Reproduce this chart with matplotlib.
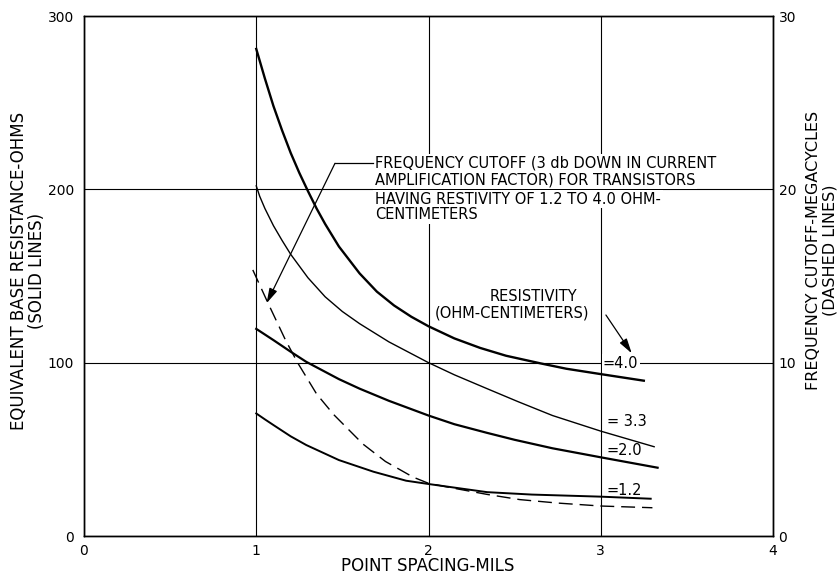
import matplotlib.pyplot as plt

# base resistance (ohms) vs point spacing (mils), one curve per resistivity
spacing_40 = [1.0, 1.05, 1.1, 1.15, 1.2, 1.25, 1.3, 1.35, 1.4, 1.48, 1.6, 1.7, 1.8, 1.9,
              2.0, 2.15, 2.3, 2.45, 2.65, 2.8, 3.0, 3.25]
resist_40 = [281, 264, 248, 234, 221, 209.5, 199, 189, 180, 167, 151.5, 141, 133, 126.5,
             121, 114, 108.5, 104, 99.6, 96.5, 93.4, 89.6]

spacing_33 = [1.0, 1.02, 1.05, 1.1, 1.15, 1.2, 1.3, 1.4, 1.5, 1.6, 1.77, 2.0, 2.15, 2.34,
              2.52, 2.72, 3.0, 3.31]
resist_33 = [202, 196, 189, 179, 170.5, 162.5, 149, 138, 129.5, 122.5, 112, 100, 93, 85,
             77.5, 69.5, 60.5, 51.5]

spacing_20 = [1.0, 1.1, 1.2, 1.29, 1.48, 1.6, 1.77, 2.0, 2.15, 2.34, 2.5, 2.72, 3.0, 3.33]
resist_20 = [119.5, 113, 106.3, 100.5, 90.5, 85, 78, 69.5, 64.5, 59.5, 55.5, 50.6, 45.4, 39.4]

spacing_12 = [1.0, 1.05, 1.1, 1.2, 1.29, 1.48, 1.68, 1.87, 2.0, 2.34, 2.6, 3.0, 3.29]
resist_12 = [70.7, 67.3, 64, 57.5, 52.5, 43.8, 37.1, 31.9, 30, 25.3, 23.9, 22.7, 21.5]

# frequency cutoff (megacycles), right hand scale
spacing_fc = [0.98, 1.07, 1.17, 1.24, 1.35, 1.45, 1.62, 1.75, 1.91, 2.0, 2.15, 2.34,
              2.53, 2.75, 3.0, 3.3]
cutoff_fc = [15.35, 13.4, 11.3, 10.0, 8.2, 7.0, 5.3, 4.3, 3.4, 3.04, 2.75, 2.4,
             2.1, 1.9, 1.73, 1.63]

x_ticks = [0, 1, 2, 3, 4]
left_ticks = [0, 100, 200, 300]
right_ticks = [0, 10, 20, 30]

plt.rcParams["font.family"] = ["DejaVu Sans"]

fig = plt.figure(figsize=(8.39, 5.77), dpi=100)
ax = fig.add_axes([84 / 839, 1 - 536 / 577, 689 / 839, 520 / 577])
ax2 = ax.twinx()

ax.set_xlim(0, 4)
ax.set_ylim(0, 300)
ax2.set_ylim(0, 30)
ax.set_xticks(x_ticks)
ax.set_yticks(left_ticks)
ax2.set_yticks(right_ticks)
ax.tick_params(length=0, labelsize=10, pad=7)
ax.tick_params(axis="x", pad=6)
ax2.tick_params(length=0, labelsize=10, pad=4)
ax.grid(True, color="black", linewidth=0.8)
for a in (ax, ax2):
    for s in a.spines.values():
        s.set_linewidth(1.0)

ax.plot(spacing_40, resist_40, color="black", lw=1.7, zorder=3)
ax.plot(spacing_33, resist_33, color="black", lw=1.0, zorder=3)
ax.plot(spacing_20, resist_20, color="black", lw=1.6, zorder=3)
ax.plot(spacing_12, resist_12, color="black", lw=1.4, zorder=3)
ax2.plot(spacing_fc, cutoff_fc, color="black", lw=1.0, dashes=(10, 5))

# note about the dashed curve, each line boxed in white so the grid breaks behind it
note = [
    "FREQUENCY CUTOFF (3 db DOWN IN CURRENT",
    "AMPLIFICATION FACTOR) FOR TRANSISTORS",
    "HAVING RESTIVITY OF 1.2 TO 4.0 OHM-",
    "CENTIMETERS",
]
for line, y in zip(note, [215, 205.4, 194.3, 185.2]):
    ax.text(1.69, y, line, fontsize=10.5, ha="left", va="center", zorder=4,
            bbox=dict(boxstyle="square,pad=0.12", fc="white", ec="none"))
ax.plot([1.457, 1.68], [215, 215], color="black", lw=0.9, zorder=4)
ax.annotate("", xy=(1.06, 134.3), xytext=(1.457, 215),
            arrowprops=dict(arrowstyle="-|>,head_length=0.9,head_width=0.25",
                            color="black", lw=0.9, shrinkA=0, shrinkB=0), zorder=4)

ax.text(2.357, 138.1, "RESISTIVITY", fontsize=10.5, ha="left", va="center", zorder=4)
ax.text(2.038, 128.5, "(OHM-CENTIMETERS)", fontsize=10.5, ha="left", va="center", zorder=4)
ax.annotate("", xy=(3.18, 105.4), xytext=(3.03, 127.5),
            arrowprops=dict(arrowstyle="-|>,head_length=0.9,head_width=0.25",
                            color="black", lw=0.9, shrinkA=0, shrinkB=0), zorder=4)

ax.text(3.013, 99.8, "=4.0", fontsize=10.5, ha="left", va="center", zorder=4,
        bbox=dict(boxstyle="square,pad=0.1", fc="white", ec="none"))
ax.text(3.034, 66, "= 3.3", fontsize=10.5, ha="left", va="center", zorder=4)
ax.text(3.034, 49.6, "=2.0", fontsize=10.5, ha="left", va="center", zorder=4)
ax.text(3.034, 26.5, "=1.2", fontsize=10.5, ha="left", va="center", zorder=4)

# axis titles
fig.text(19 / 839, 1 - 271 / 577, "EQUIVALENT BASE RESISTANCE-OHMS", rotation=90,
         fontsize=12, ha="center", va="center")
fig.text(37 / 839, 1 - 271 / 577, "(SOLID LINES)", rotation=90,
         fontsize=12, ha="center", va="center")
fig.text(813 / 839, 1 - 250 / 577, "FREQUENCY CUTOFF-MEGACYCLES", rotation=90,
         fontsize=11.5, ha="center", va="center")
fig.text(830 / 839, 1 - 250 / 577, "(DASHED LINES)", rotation=90,
         fontsize=11.5, ha="center", va="center")
fig.text(428 / 839, 1 - 566 / 577, "POINT SPACING-MILS", fontsize=12,
         ha="center", va="center")

fig.savefig("out.png", dpi=100)
